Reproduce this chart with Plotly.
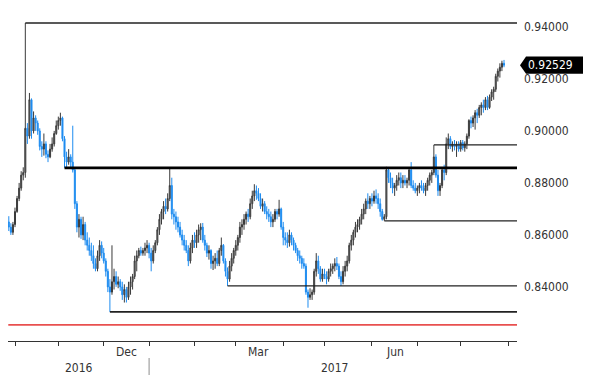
import pandas as pd
import plotly.graph_objects as go

# Daily OHLC (business days starting 2016-09-28)
open_ = [
 .8650,.8630,.8610,.8640,.8690,.8740,.8780,.8830,.8840,.9010,
 .8980,.9120,.9000,.9050,.9030,.9000,.8940,.8930,.8950,.8910,
 .8900,.8930,.8950,.8990,.9020,.9040,.9050,.8970,.8900,.8880,
 .8900,.8880,.8850,.8720,.8630,.8660,.8600,.8640,.8580,.8560,
 .8540,.8520,.8490,.8470,.8520,.8560,.8530,.8500,.8460,.8400,
 .8380,.8420,.8440,.8410,.8420,.8400,.8370,.8390,.8360,.8400,
 .8420,.8440,.8500,.8520,.8540,.8530,.8540,.8550,.8560,.8530,
 .8500,.8540,.8570,.8620,.8660,.8690,.8710,.8700,.8740,.8790,
 .8680,.8670,.8650,.8630,.8600,.8580,.8560,.8540,.8500,.8550,
 .8580,.8570,.8600,.8620,.8630,.8580,.8560,.8530,.8540,.8490,
 .8500,.8510,.8490,.8540,.8560,.8500,.8460,.8430,.8480,.8510,
 .8540,.8560,.8590,.8630,.8640,.8660,.8680,.8670,.8720,.8750,
 .8770,.8760,.8740,.8710,.8720,.8690,.8680,.8670,.8650,.8660,
 .8690,.8680,.8700,.8630,.8590,.8580,.8570,.8600,.8580,.8560,
 .8540,.8520,.8510,.8490,.8480,.8380,.8360,.8370,.8380,.8460,
 .8500,.8470,.8430,.8450,.8440,.8430,.8460,.8470,.8480,.8490,
 .8480,.8440,.8420,.8460,.8480,.8500,.8560,.8580,.8610,.8630,
 .8640,.8660,.8680,.8700,.8730,.8720,.8740,.8730,.8750,.8740,
 .8720,.8690,.8660,.8670,.8850,.8820,.8800,.8780,.8790,.8810,
 .8820,.8800,.8810,.8800,.8810,.8850,.8790,.8780,.8770,.8780,
 .8790,.8780,.8770,.8790,.8810,.8830,.8840,.8900,.8830,.8770,
 .8790,.8850,.8840,.8950,.8970,.8940,.8950,.8940,.8950,.8930,
 .8955,.8935,.8950,.8980,.9040,.9030,.9050,.9070,.9060,.9090,
 .9100,.9090,.9120,.9090,.9130,.9150,.9160,.9210,.9230,.9245,
 .9260]
high = [
 .8672,.8645,.8650,.8705,.8750,.8800,.8845,.8860,.9415,.9030,
 .9146,.9125,.9075,.9060,.9040,.9010,.8960,.8990,.8960,.8925,
 .8950,.8975,.9000,.9040,.9055,.9070,.9055,.8980,.8920,.8930,
 .8910,.9020,.8860,.8730,.8680,.8670,.8670,.8650,.8610,.8590,
 .8570,.8560,.8510,.8540,.8580,.8575,.8550,.8510,.8470,.8430,
 .8560,.8470,.8460,.8440,.8430,.8420,.8410,.8400,.8420,.8440,
 .8450,.8520,.8540,.8550,.8555,.8550,.8570,.8580,.8570,.8550,
 .8560,.8580,.8630,.8680,.8700,.8730,.8740,.8760,.8858,.8820,
 .8700,.8690,.8670,.8650,.8620,.8600,.8580,.8560,.8570,.8600,
 .8610,.8620,.8640,.8645,.8646,.8600,.8570,.8560,.8545,.8520,
 .8530,.8540,.8550,.8590,.8565,.8510,.8475,.8500,.8530,.8550,
 .8580,.8600,.8650,.8660,.8680,.8690,.8700,.8740,.8770,.8795,
 .8790,.8780,.8760,.8740,.8730,.8710,.8700,.8690,.8680,.8700,
 .8700,.8735,.8705,.8650,.8610,.8610,.8620,.8610,.8590,.8570,
 .8550,.8540,.8520,.8510,.8490,.8390,.8395,.8390,.8470,.8530,
 .8520,.8480,.8470,.8470,.8460,.8470,.8490,.8490,.8510,.8515,
 .8490,.8460,.8480,.8500,.8520,.8570,.8600,.8620,.8650,.8660,
 .8670,.8700,.8720,.8740,.8760,.8750,.8760,.8770,.8775,.8760,
 .8740,.8700,.8680,.8862,.8860,.8840,.8820,.8800,.8830,.8840,
 .8840,.8830,.8830,.8820,.8860,.8880,.8810,.8800,.8790,.8800,
 .8810,.8800,.8800,.8820,.8840,.8850,.8946,.8910,.8850,.8800,
 .8860,.8870,.8975,.8990,.8980,.8960,.8965,.8960,.8960,.8965,
 .8965,.8960,.8990,.9045,.9055,.9060,.9080,.9085,.9100,.9110,
 .9120,.9130,.9135,.9140,.9160,.9170,.9220,.9240,.9260,.9270,
 .9273]
low = [
 .8615,.8600,.8600,.8630,.8685,.8730,.8770,.8810,.8820,.8950,
 .8970,.8970,.8990,.9000,.8985,.8925,.8900,.8905,.8895,.8880,
 .8895,.8920,.8940,.8985,.9005,.9020,.8960,.8858,.8860,.8870,
 .8860,.8840,.8700,.8610,.8590,.8585,.8580,.8560,.8540,.8520,
 .8500,.8470,.8460,.8460,.8500,.8510,.8490,.8440,.8380,.8304,
 .8370,.8390,.8400,.8395,.8385,.8350,.8340,.8340,.8350,.8370,
 .8390,.8430,.8460,.8510,.8520,.8520,.8520,.8530,.8510,.8460,
 .8490,.8530,.8560,.8600,.8640,.8660,.8680,.8690,.8730,.8660,
 .8640,.8620,.8610,.8590,.8560,.8540,.8530,.8480,.8490,.8530,
 .8550,.8550,.8570,.8580,.8570,.8540,.8515,.8505,.8470,.8465,
 .8470,.8480,.8480,.8520,.8490,.8440,.8404,.8420,.8460,.8490,
 .8520,.8540,.8570,.8600,.8620,.8640,.8650,.8660,.8700,.8730,
 .8735,.8730,.8700,.8690,.8680,.8660,.8650,.8630,.8630,.8650,
 .8660,.8670,.8620,.8560,.8560,.8550,.8555,.8560,.8540,.8530,
 .8500,.8490,.8470,.8470,.8370,.8320,.8350,.8350,.8370,.8440,
 .8450,.8420,.8420,.8430,.8410,.8420,.8440,.8450,.8460,.8465,
 .8430,.8404,.8410,.8440,.8460,.8490,.8540,.8560,.8590,.8610,
 .8620,.8640,.8660,.8680,.8700,.8700,.8710,.8720,.8720,.8700,
 .8670,.8655,.8654,.8660,.8800,.8780,.8760,.8750,.8770,.8790,
 .8780,.8780,.8790,.8780,.8790,.8780,.8770,.8760,.8750,.8760,
 .8770,.8760,.8750,.8770,.8790,.8800,.8830,.8820,.8750,.8750,
 .8780,.8810,.8830,.8930,.8930,.8920,.8925,.8900,.8920,.8920,
 .8925,.8920,.8930,.8970,.9010,.9015,.9005,.9030,.9050,.9060,
 .9070,.9080,.9080,.9085,.9115,.9120,.9150,.9190,.9205,.9230,
 .9245]
close = [
 .8630,.8610,.8640,.8690,.8740,.8780,.8830,.8840,.9010,.8980,
 .9120,.9000,.9050,.9030,.9000,.8940,.8930,.8950,.8910,.8900,
 .8930,.8950,.8990,.9020,.9040,.9050,.8970,.8900,.8880,.8900,
 .8880,.8850,.8720,.8630,.8660,.8600,.8640,.8580,.8560,.8540,
 .8520,.8490,.8470,.8520,.8560,.8530,.8500,.8460,.8400,.8380,
 .8420,.8440,.8410,.8420,.8400,.8370,.8390,.8360,.8400,.8420,
 .8440,.8500,.8520,.8540,.8530,.8540,.8550,.8560,.8530,.8500,
 .8540,.8570,.8620,.8660,.8690,.8710,.8700,.8740,.8790,.8680,
 .8670,.8650,.8630,.8600,.8580,.8560,.8540,.8500,.8550,.8580,
 .8570,.8600,.8620,.8630,.8580,.8560,.8530,.8540,.8490,.8500,
 .8510,.8490,.8540,.8560,.8500,.8460,.8430,.8480,.8510,.8540,
 .8560,.8590,.8630,.8640,.8660,.8680,.8670,.8720,.8750,.8770,
 .8760,.8740,.8710,.8720,.8690,.8680,.8670,.8650,.8660,.8690,
 .8680,.8700,.8630,.8590,.8580,.8570,.8600,.8580,.8560,.8540,
 .8520,.8510,.8490,.8480,.8380,.8360,.8370,.8380,.8460,.8500,
 .8470,.8430,.8450,.8440,.8430,.8460,.8470,.8480,.8490,.8480,
 .8440,.8420,.8460,.8480,.8500,.8560,.8580,.8610,.8630,.8640,
 .8660,.8680,.8700,.8730,.8720,.8740,.8730,.8750,.8740,.8720,
 .8690,.8660,.8670,.8850,.8820,.8800,.8780,.8790,.8810,.8820,
 .8800,.8810,.8800,.8810,.8850,.8790,.8780,.8770,.8780,.8790,
 .8780,.8770,.8790,.8810,.8830,.8840,.8900,.8830,.8770,.8790,
 .8850,.8840,.8950,.8970,.8940,.8950,.8940,.8950,.8930,.8955,
 .8935,.8950,.8980,.9040,.9030,.9050,.9070,.9060,.9090,.9100,
 .9090,.9120,.9090,.9130,.9150,.9160,.9210,.9230,.9245,.9260,
 .92529]

dates = pd.bdate_range("2016-09-28", periods=len(close))

# Support / resistance levels and the date each one starts from
level_values = [0.9415, 0.8858, 0.8946, 0.8654, 0.8404, 0.8304, 0.8254]
level_starts = ["2016-10-10", "2016-11-04", "2017-07-13", "2017-06-09",
                "2017-02-23", "2016-12-06", "2016-09-27 18:00"]
level_widths = [1.3, 2.6, 1.3, 1.3, 1.3, 1.6, 1.6]
level_colors = ["#222222", "#000000", "#222222", "#222222", "#222222", "#222222", "#e8504f"]

y_ticks = [0.84, 0.86, 0.88, 0.90, 0.92, 0.94]
month_ticks = ["2016-10-03", "2016-11-01", "2016-12-01", "2017-01-02", "2017-02-01",
               "2017-03-01", "2017-04-03", "2017-05-01", "2017-06-01", "2017-07-03",
               "2017-08-01", "2017-09-01"]
month_labels = {"2016-12-16": "Dec", "2017-03-16": "Mar", "2017-06-16": "Jun"}
year_labels = {"2016": 0.1395, "2017": 0.6405}
last_price = close[-1]

X_START, X_END = "2016-09-27 14:38", "2017-09-07 07:12"
Y_MIN, Y_MAX = 0.8192, 0.94458
FONT = "Liberation Sans Narrow, DejaVu Sans Condensed, Arial"

fig = go.Figure(go.Candlestick(
    x=dates, open=open_, high=high, low=low, close=close,
    increasing=dict(line=dict(color="#3a3a3a", width=1), fillcolor="#7a7a7a"),
    decreasing=dict(line=dict(color="#1e8cf0", width=1), fillcolor="#1e8cf0"),
    whiskerwidth=0, showlegend=False, hoverinfo="skip",
))

shapes = []
for v, s, w, c in zip(level_values, level_starts, level_widths, level_colors):
    shapes.append(dict(type="line", xref="x", yref="y", x0=s, x1=X_END, y0=v, y1=v,
                       line=dict(color=c, width=w), layer="above"))

# year separator
shapes.append(dict(type="line", xref="x", yref="paper", x0="2017-01-02", x1="2017-01-02",
                   y0=-0.052, y1=-0.104, line=dict(color="#a0a0a0", width=1.2)))

# last price tag
px = lambda p: (p - 8) / 509.0
h = 0.00330
xa, xb, xc = px(520), px(526), px(583)
shapes.append(dict(type="path", xref="paper", yref="y",
                   path=f"M {xa},{last_price} L {xb},{last_price + h} L {xc},{last_price + h} "
                        f"L {xc},{last_price - h} L {xb},{last_price - h} Z",
                   fillcolor="#000000", line=dict(color="#000000", width=0)))

annotations = []
for d, t in month_labels.items():
    annotations.append(dict(x=d, y=-0.034, xref="x", yref="paper", text=t, showarrow=False,
                            xanchor="center", yanchor="middle",
                            font=dict(family=FONT, size=12, color="#333333")))
for t, xp in year_labels.items():
    annotations.append(dict(x=xp, y=-0.083, xref="paper", yref="paper", text=t, showarrow=False,
                            xanchor="center", yanchor="middle",
                            font=dict(family=FONT, size=12, color="#333333")))
annotations.append(dict(x=px(526), y=last_price, xref="paper", yref="y", text=f"{last_price:.5f}",
                        showarrow=False, xanchor="left", yanchor="middle",
                        font=dict(family=FONT, size=12, color="#ffffff")))

# page has an 8px body margin, so the figure is sized to fit the 600x383 window
fig.update_layout(
    width=592, height=375,
    margin=dict(l=0, r=83, t=7, b=42),
    paper_bgcolor="white", plot_bgcolor="white",
    shapes=shapes, annotations=annotations,
    showlegend=False, hovermode=False,
    xaxis=dict(type="date", range=[X_START, X_END],
               rangebreaks=[dict(bounds=["sat", "mon"])],
               rangeslider=dict(visible=False),
               showgrid=False, zeroline=False, showline=True, linecolor="#333333", linewidth=1,
               ticks="outside", ticklen=4, tickcolor="#333333", tickwidth=1,
               tickvals=month_ticks, showticklabels=False),
    yaxis=dict(side="right", range=[Y_MIN, Y_MAX], showgrid=False, zeroline=False,
               showline=False, ticks="", tickvals=y_ticks,
               ticktext=[f"{v:.5f}" for v in y_ticks],
               ticklabelstandoff=6,
               tickfont=dict(family=FONT, size=12, color="#333333")),
)

fig.write_html("out.html")
